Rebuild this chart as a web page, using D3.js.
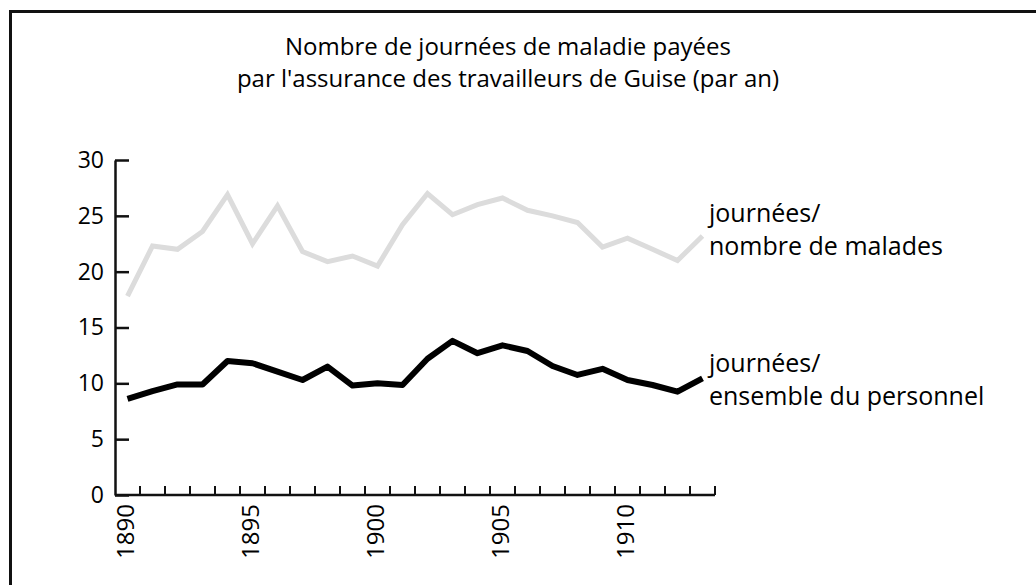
<!DOCTYPE html>
<html>
<head>
<meta charset="utf-8">
<script src="https://cdn.jsdelivr.net/npm/d3@7"></script>
<style>
  body { margin: 0; background: #fff; }
  text { font-family: "Open Sans", sans-serif; fill: #000; }
</style>
</head>
<body>
<div id="chart"></div>
<script>
// years and the two series
let years = d3.range(1890, 1914);
let parMalade = [17.8, 22.3, 22.0, 23.6, 26.9, 22.5, 25.9, 21.8, 20.9, 21.4, 20.5, 24.2,
    27.0, 25.1, 26.0, 26.6, 25.5, 25.0, 24.4, 22.2, 23.0, 22.0, 21.0, 23.2];
let parPersonnel = [8.6, 9.3, 9.9, 9.9, 12.0, 11.8, 11.05, 10.3, 11.5, 9.8, 10.0, 9.85,
    12.2, 13.8, 12.7, 13.4, 12.9, 11.55, 10.75, 11.3, 10.3, 9.85, 9.25, 10.45];
let yTicks = [0, 5, 10, 15, 20, 25, 30];
let xLabels = [1890, 1895, 1900, 1905, 1910];
let titleLines = ["Nombre de journées de maladie payées",
    "par l'assurance des travailleurs de Guise (par an)"];
let labelMalade = ["journées/", "nombre de malades"];
let labelPersonnel = ["journées/", "ensemble du personnel"];

function line_chart() {

    let W = 1036, H = 585;

    let svg = d3.select("#chart")
        .append("svg")
        .attr("width", W)
        .attr("height", H);

    // frame, open on the right and at the bottom
    svg.append("path")
        .attr("d", "M10.5," + H + "V11.5H" + W)
        .attr("fill", "none")
        .attr("stroke", "#111")
        .attr("stroke-width", 3);

    // title
    svg.append("text")
        .attr("x", 508)
        .attr("y", 55)
        .attr("text-anchor", "middle")
        .attr("font-size", 24)
        .selectAll("tspan")
        .data(titleLines)
        .enter()
        .append("tspan")
        .attr("x", 508)
        .attr("dy", function (d, i) { return i ? 32 : 0; })
        .text(function (d) { return d; });

    let x = d3.scaleLinear()
        .domain([1889.5, 1913.5])
        .range([115, 715]);

    let y = d3.scaleLinear()
        .domain([0, 30])
        .range([495, 160]);

    // X axis: ticks between years, labels under the years
    let gx = svg.append("g")
        .attr("transform", "translate(0,495)");
    gx.append("path")
        .attr("d", "M" + x(1889.5) + ",0H" + x(1913.5))
        .attr("stroke", "#111")
        .attr("stroke-width", 2.5);
    gx.selectAll("line")
        .data(d3.range(1890.5, 1914, 1))
        .enter()
        .append("line")
        .attr("x1", function (d) { return x(d); })
        .attr("x2", function (d) { return x(d); })
        .attr("y1", 0)
        .attr("y2", -9)
        .attr("stroke", "#111")
        .attr("stroke-width", 2);
    gx.selectAll("text")
        .data(xLabels)
        .enter()
        .append("text")
        .attr("transform", function (d) {
            return "translate(" + (x(d) - 2) + ",9) rotate(-90)";
        })
        .attr("text-anchor", "end")
        .attr("dy", "0.35em")
        .attr("font-size", 24)
        .text(function (d) { return d; });

    // Y axis, ticks pointing inside
    let gy = svg.append("g")
        .attr("transform", "translate(115,0)")
        .call(d3.axisRight(y).tickValues(yTicks).tickSize(14).tickSizeOuter(0));
    gy.select(".domain").attr("stroke", "#111").attr("stroke-width", 2.5);
    gy.selectAll(".tick line").attr("stroke", "#111").attr("stroke-width", 2.5);
    gy.selectAll(".tick text")
        .attr("x", -11)
        .attr("text-anchor", "end")
        .attr("font-family", "'Open Sans', sans-serif")
        .attr("font-size", 23)
        .attr("fill", "#000");

    let line = d3.line()
        .x(function (d, i) { return x(years[i]); })
        .y(function (d) { return y(d); });

    svg.append("path")
        .datum(parMalade)
        .attr("d", line)
        .attr("fill", "none")
        .attr("stroke", "#dcdcdc")
        .attr("stroke-width", 5)
        .attr("stroke-linejoin", "miter");

    svg.append("path")
        .datum(parPersonnel)
        .attr("d", line)
        .attr("fill", "none")
        .attr("stroke", "#000")
        .attr("stroke-width", 6)
        .attr("stroke-linejoin", "round");

    // series labels
    function addLabel(lines, top) {
        svg.append("text")
            .attr("x", 709)
            .attr("y", top)
            .attr("font-size", 25)
            .selectAll("tspan")
            .data(lines)
            .enter()
            .append("tspan")
            .attr("x", 709)
            .attr("dy", function (d, i) { return i ? 33 : 0; })
            .text(function (d) { return d; });
    }
    addLabel(labelMalade, 222);
    addLabel(labelPersonnel, 372);
}

line_chart();
</script>
</body>
</html>
